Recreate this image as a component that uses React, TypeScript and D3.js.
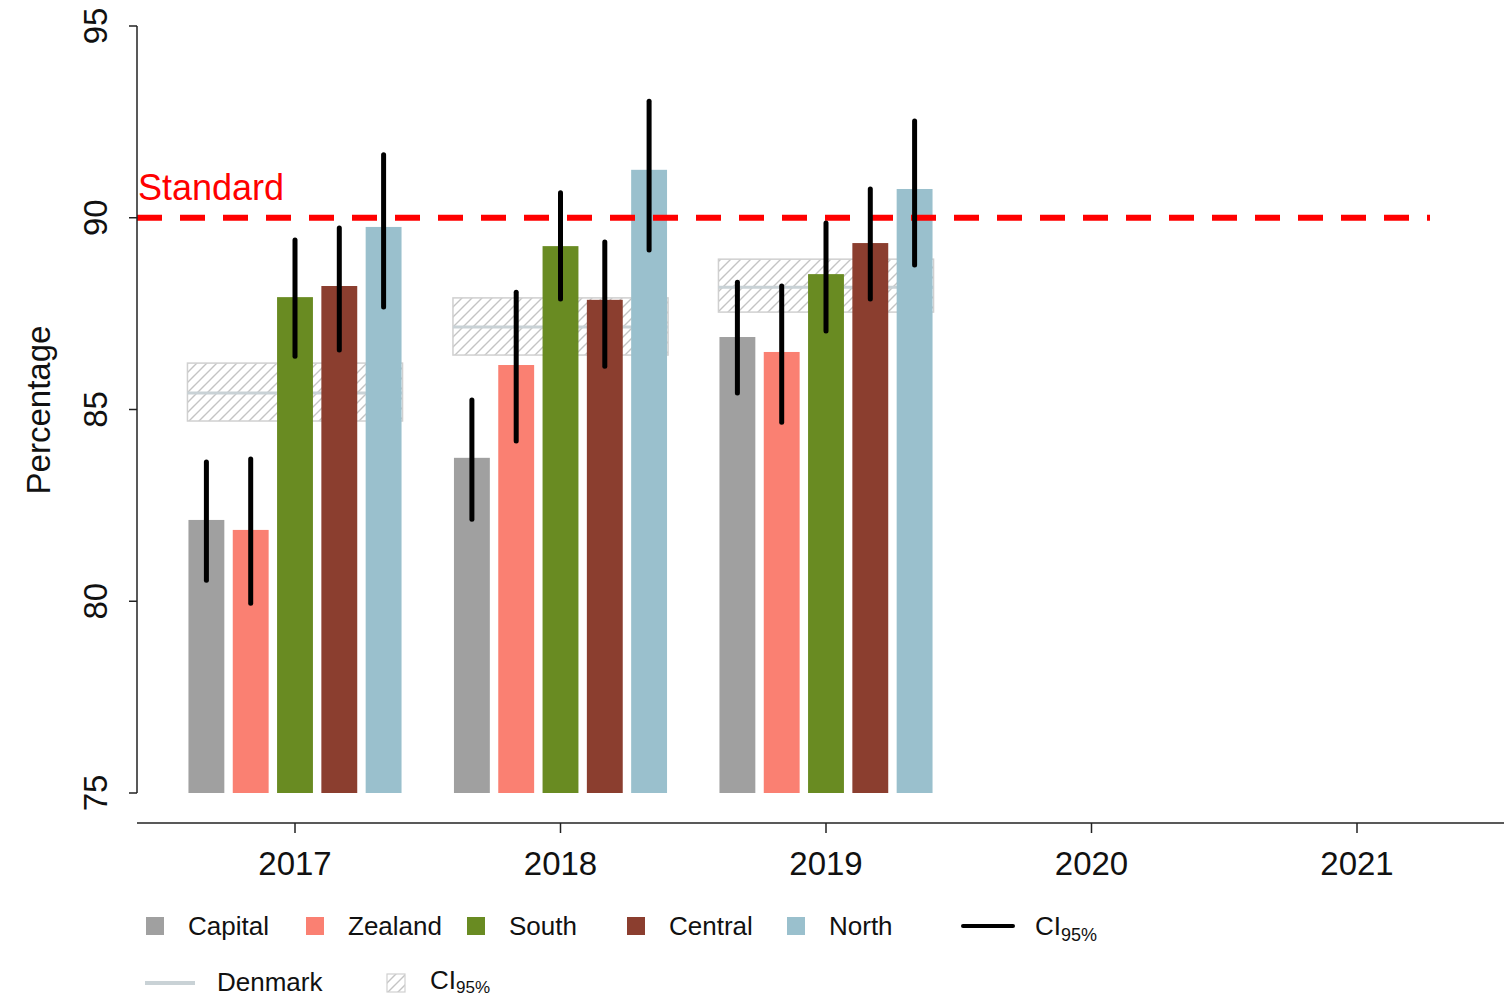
import React from "react";
import * as d3 from "d3";

const years = [2017, 2018, 2019, 2020, 2021];
const dataYears = [2017, 2018, 2019];
const regions = ["Capital", "Zealand", "South", "Central", "North"];
const regionColors = ["#a0a0a0", "#fa8072", "#698b22", "#8b3e2f", "#9ac0cd"];

// values[region][yearIndex]
const capitalVals = [82.12, 83.74, 86.89];
const zealandVals = [81.86, 86.16, 86.5];
const southVals = [87.93, 89.26, 88.53];
const centralVals = [88.22, 87.86, 89.34];
const northVals = [89.76, 91.25, 90.75];

const capitalLo = [80.55, 82.14, 85.43];
const capitalHi = [83.63, 85.25, 88.32];
const zealandLo = [79.95, 84.18, 84.67];
const zealandHi = [83.71, 88.06, 88.22];
const southLo = [86.39, 87.88, 87.05];
const southHi = [89.42, 90.65, 89.86];
const centralLo = [86.55, 86.13, 87.88];
const centralHi = [89.73, 89.37, 90.75];
const northLo = [87.67, 89.16, 88.77];
const northHi = [91.64, 93.04, 92.52];

const denmarkVals = [85.43, 87.15, 88.19];
const denmarkLo = [84.7, 86.42, 87.54];
const denmarkHi = [86.21, 87.91, 88.92];

const yTicks = [75, 80, 85, 90, 95];
const standardValue = 90;

const FONT = "'Liberation Sans', Arial, Helvetica, sans-serif";

export default function App() {
  const W = 1504;
  const H = 997;
  const y = d3.scaleLinear().domain([75, 95]).range([793, 26]);
  const x = d3.scaleLinear().domain([2017, 2021]).range([295, 1357]);
  const band = d3
    .scaleBand<string>()
    .domain(regions)
    .range([-110.75, 110.75])
    .paddingInner(0.19)
    .paddingOuter(0.095);
  const bw = band.bandwidth();

  const vals = [capitalVals, zealandVals, southVals, centralVals, northVals];
  const los = [capitalLo, zealandLo, southLo, centralLo, northLo];
  const his = [capitalHi, zealandHi, southHi, centralHi, northHi];

  const boxL = (band(regions[0]) as number) - 1;
  const boxR = (band(regions[4]) as number) + bw + 1;

  const legend1X = [146, 306, 467, 627, 787];

  return (
    <svg
      width={W}
      height={H}
      style={{ position: "absolute", left: 0, top: 0, background: "#fff" }}
      fontFamily={FONT}
    >
      <defs>
        <pattern id="hatch" patternUnits="userSpaceOnUse" width={10} height={10}>
          <path d="M-2,12 L12,-2 M-2,2 L2,-2 M8,12 L12,8" stroke="#c4c4c4" strokeWidth={1.4} />
        </pattern>
      </defs>

      {/* Denmark CI boxes */}
      {dataYears.map((yr, i) => (
        <g key={"dk" + yr}>
          <rect
            x={x(yr) + boxL}
            y={y(denmarkHi[i])}
            width={boxR - boxL}
            height={y(denmarkLo[i]) - y(denmarkHi[i])}
            fill="url(#hatch)"
            stroke="#d0d0d0"
            strokeWidth={1.5}
          />
          <line
            x1={x(yr) + boxL}
            x2={x(yr) + boxR}
            y1={y(denmarkVals[i])}
            y2={y(denmarkVals[i])}
            stroke="#c9d2d6"
            strokeWidth={3}
          />
        </g>
      ))}

      {/* bars */}
      {dataYears.map((yr, i) =>
        regions.map((r, j) => (
          <rect
            key={r + yr}
            x={x(yr) + (band(r) as number)}
            y={y(vals[j][i])}
            width={bw}
            height={y(75) - y(vals[j][i])}
            fill={regionColors[j]}
          />
        ))
      )}

      {/* standard line */}
      <line
        x1={137}
        x2={1430}
        y1={y(standardValue)}
        y2={y(standardValue)}
        stroke="#ff0000"
        strokeWidth={6}
        strokeDasharray="25 18"
      />
      <text x={138} y={200} fill="#ff0000" fontSize={36}>
        Standard
      </text>

      {/* error bars */}
      {dataYears.map((yr, i) =>
        regions.map((r, j) => {
          const cx = x(yr) + (band(r) as number) + bw / 2;
          return (
            <line
              key={"e" + r + yr}
              x1={cx}
              x2={cx}
              y1={y(los[j][i])}
              y2={y(his[j][i])}
              stroke="#000"
              strokeWidth={5}
              strokeLinecap="round"
            />
          );
        })
      )}

      {/* y axis */}
      <line x1={137} x2={137} y1={y(95)} y2={y(75)} stroke="#222" strokeWidth={1.5} />
      {yTicks.map((t) => (
        <g key={"yt" + t}>
          <line x1={129} x2={137} y1={y(t)} y2={y(t)} stroke="#222" strokeWidth={1.5} />
          <text
            transform={`translate(107,${y(t)}) rotate(-90)`}
            textAnchor="middle"
            fontSize={33}
            fill="#111"
          >
            {t}
          </text>
        </g>
      ))}
      <text
        transform={`translate(50,410) rotate(-90)`}
        textAnchor="middle"
        fontSize={33}
        fill="#111"
      >
        Percentage
      </text>

      {/* x axis */}
      <line x1={137} x2={1504} y1={823} y2={823} stroke="#222" strokeWidth={1.5} />
      {years.map((yr) => (
        <g key={"xt" + yr}>
          <line x1={x(yr)} x2={x(yr)} y1={823} y2={833} stroke="#222" strokeWidth={1.5} />
          <text x={x(yr)} y={875} textAnchor="middle" fontSize={33} fill="#111">
            {yr}
          </text>
        </g>
      ))}

      {/* legend row 1 */}
      {regions.map((r, j) => (
        <g key={"lg" + r}>
          <rect x={legend1X[j]} y={917} width={18} height={18} fill={regionColors[j]} />
          <text x={legend1X[j] + 42} y={935} fontSize={26} fill="#111">
            {r}
          </text>
        </g>
      ))}
      <line x1={963} x2={1013} y1={926} y2={926} stroke="#000" strokeWidth={4} strokeLinecap="round" />
      <text x={1035} y={935} fontSize={26} fill="#111">
        CI<tspan fontSize={18} dy={6}>95%</tspan>
      </text>

      {/* legend row 2 */}
      <line x1={145} x2={195} y1={983} y2={983} stroke="#c9d2d6" strokeWidth={4} />
      <text x={217} y={991} fontSize={26} fill="#111">
        Denmark
      </text>
      <rect x={387} y={974} width={18} height={18} fill="url(#hatch)" stroke="#d0d0d0" strokeWidth={1.2} />
      <text x={430} y={989} fontSize={26} fill="#111">
        CI<tspan fontSize={17} dy={4}>95%</tspan>
      </text>
    </svg>
  );
}
